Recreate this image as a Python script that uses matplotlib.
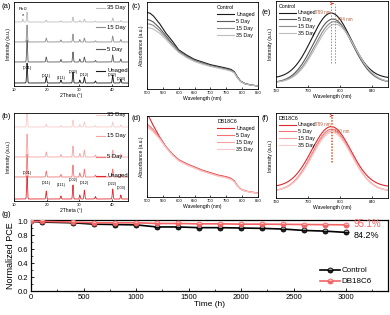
import numpy as np
import matplotlib
matplotlib.use("Agg")
import matplotlib.pyplot as plt

plt.rcParams['font.family'] = ['Liberation Sans', 'DejaVu Sans']
plt.rcParams['axes.linewidth'] = 0.6

W, H = 390, 315

# ---------------- data ----------------
# XRD peaks (2theta) and heights per sample
xrd_pos = [12.7, 14.0, 19.9, 24.4, 28.1, 30.2, 31.6, 35.0, 40.3, 42.8]
xrd_labels = ['(001)', '(011)', '(111)', '(002)', '(012)', '(022)', '(003)']
xrd_label_pos = [14.0, 19.9, 24.4, 28.1, 31.6, 40.3, 42.8]
xrd_samples = ['Unaged', '5 Day', '15 Day', '35 Day']
ctrl_xrd_heights = [
    [0, 20, 6, 3, 11, 3, 6, 2, 8, 4],
    [0, 22, 5, 2.5, 10, 3, 5, 1.5, 7, 3],
    [0, 17, 4, 2, 8, 2.5, 4, 1.2, 6, 2.5],
    [3, 10, 2, 1.2, 5, 1.5, 3, 1, 4, 1.5],
]
ctrl_xrd_offsets = [3, 24, 44, 64]
ctrl_xrd_label_y = [71, 49, 27, 8]
ctrl_hkl_y = [16, 8, 6, 12, 9, 9, 5]
db_xrd_heights = [
    [0, 23, 8, 3, 14, 4, 9, 2.5, 10, 4],
    [0, 23, 6, 2.5, 12, 4, 8, 2, 8, 3],
    [0, 23, 5, 2.5, 11, 3.5, 7, 2, 7, 3],
    [0, 20, 3, 1.5, 7, 2.5, 5, 1.5, 5, 2],
]
db_xrd_offsets = [2, 24, 44, 74]
db_xrd_label_y = [176, 157, 136, 115]
db_hkl_y = [26, 16, 14, 19, 16, 15, 11]

# Absorption spectra
abs_wl = [500, 510, 520, 540, 560, 580, 600, 625, 650, 675, 700, 725, 750, 765,
          775, 785, 795, 810, 830, 850]
ctrl_abs = {
    'Unaged': [0.88, 0.87, 0.84, 0.75, 0.64, 0.55, 0.45, 0.39, 0.34, 0.31, 0.28, 0.26,
               0.24, 0.225, 0.20, 0.14, 0.09, 0.06, 0.045, 0.035],
    '5 Day': [0.80, 0.79, 0.77, 0.70, 0.61, 0.52, 0.44, 0.38, 0.33, 0.30, 0.27, 0.25,
              0.23, 0.215, 0.195, 0.135, 0.09, 0.06, 0.045, 0.035],
    '15 Day': [0.75, 0.745, 0.73, 0.67, 0.59, 0.51, 0.43, 0.37, 0.325, 0.295, 0.265,
               0.245, 0.225, 0.21, 0.19, 0.13, 0.088, 0.058, 0.044, 0.034],
    '35 Day': [0.705, 0.70, 0.69, 0.64, 0.57, 0.49, 0.42, 0.36, 0.315, 0.285, 0.26,
               0.24, 0.22, 0.205, 0.185, 0.13, 0.087, 0.057, 0.043, 0.033],
}
db_abs = {
    'Unaged': [1.03, 0.96, 0.88, 0.74, 0.62, 0.53, 0.46, 0.41, 0.37, 0.33, 0.30, 0.27,
               0.25, 0.23, 0.20, 0.14, 0.10, 0.075, 0.06, 0.05],
    '5 Day': [0.90, 0.87, 0.83, 0.73, 0.615, 0.525, 0.455, 0.405, 0.365, 0.325, 0.295,
              0.265, 0.245, 0.225, 0.195, 0.137, 0.098, 0.073, 0.058, 0.048],
    '15 Day': [0.875, 0.85, 0.815, 0.72, 0.61, 0.52, 0.45, 0.40, 0.36, 0.32, 0.29,
               0.26, 0.24, 0.22, 0.19, 0.135, 0.096, 0.072, 0.057, 0.047],
    '35 Day': [0.86, 0.835, 0.80, 0.715, 0.605, 0.515, 0.445, 0.395, 0.355, 0.315, 0.285,
               0.255, 0.235, 0.215, 0.187, 0.133, 0.095, 0.071, 0.056, 0.046],
}

# PL peaks: center (nm), height, baseline
ctrl_pl_center = [789, 791, 793, 794]
ctrl_pl_height = [0.76, 0.74, 0.71, 0.68]
ctrl_pl_base = [0.10, 0.05, 0.05, 0.05]
db_pl_center = [789, 789.5, 790, 790]
db_pl_height = [0.71, 0.73, 0.71, 0.69]
db_pl_base = [0.13, 0.08, 0.08, 0.08]

# Stability
time_h = [0, 100, 400, 600, 800, 1000, 1200, 1400, 1600, 1800, 2000, 2200, 2400,
          2600, 2800, 3000]
pce_control = [1.0, 0.99, 0.98, 0.96, 0.955, 0.95, 0.92, 0.92, 0.91, 0.91, 0.905,
               0.90, 0.89, 0.87, 0.86, 0.842]
pce_db = [1.0, 1.0, 0.99, 0.98, 0.98, 0.98, 0.97, 0.97, 0.965, 0.965, 0.96, 0.96,
          0.958, 0.955, 0.953, 0.951]

grey_cols = ['#1a1a1a', '#5a5a5a', '#8c8c8c', '#bdbdbd']
red_cols = ['#e0282e', '#f07474', '#f5a3a3', '#f9c9c9']

fig = plt.figure(figsize=(W / 100, H / 100), dpi=100)


def px(l, t, r, b):
    return [l / W, 1 - b / H, (r - l) / W, (b - t) / H]


def flabel(x, y, s):
    fig.text(x / W, 1 - y / H, s, fontsize=5.5, ha='left', va='center')


def small_ticks(ax):
    ax.tick_params(direction='in', length=1.5, width=0.5, labelsize=3, pad=1.2)


# ---------------- XRD ----------------
def xrd_panel(rect, heights, offsets, cols, label_y_px, hkl_y, top_px, bot_px, pbi2):
    ax = fig.add_axes(px(*rect))
    x = np.linspace(10, 45, 3000)
    for i, (h, off) in enumerate(zip(heights, offsets)):
        y = np.full_like(x, float(off))
        for p, hh in zip(xrd_pos, h):
            y += hh * np.exp(-0.5 * ((x - p) / 0.13) ** 2)
        ax.plot(x, y, color=cols[i], lw=0.6)
    ymax = bot_px - top_px
    ax.set_xlim(10, 45)
    ax.set_ylim(0, ymax)
    ax.set_yticks([])
    ax.set_xticks([10, 20, 30, 40])
    small_ticks(ax)
    ax.set_xlabel('2Theta (°)', fontsize=3.6, labelpad=1)
    ax.set_ylabel('Intensity (a.u.)', fontsize=3.6, labelpad=2)
    for i, s in enumerate(xrd_samples):
        yy = bot_px - label_y_px[i]
        ax.plot([35.2, 37.9], [yy, yy], color=cols[i], lw=0.8)
        ax.text(38.6, yy, s, fontsize=4.2, va='center', ha='left')
    for lab, p, yy in zip(xrd_labels, xrd_label_pos, hkl_y):
        ax.text(p, yy, lab, fontsize=2.8, ha='center', va='bottom')
    if pbi2:
        ax.text(12.7, offsets[3] + heights[3][0] + 1, '*', fontsize=4, ha='center',
                va='bottom')
        ax.text(12.7, offsets[3] + heights[3][0] + 6, 'PbI$_2$', fontsize=3,
                ha='center', va='bottom')
    return ax


xrd_panel((14, 2, 128, 86), ctrl_xrd_heights, ctrl_xrd_offsets, grey_cols,
          [86 - v for v in [15, 37, 59, 78]], ctrl_hkl_y, 2, 86, True)
xrd_panel((14, 113, 128, 201), db_xrd_heights, db_xrd_offsets, red_cols,
          db_xrd_label_y, db_hkl_y, 113, 201, False)


# ---------------- Absorption ----------------
def abs_panel(rect, data, cols, title):
    ax = fig.add_axes(px(*rect))
    for i, s in enumerate(xrd_samples):
        ax.plot(abs_wl, data[s], color=cols[i], lw=0.8, label=s)
    ax.set_xlim(500, 850)
    ax.set_ylim(0, 1.0)
    ax.set_yticks([])
    ax.set_xticks(range(500, 851, 50))
    small_ticks(ax)
    ax.set_xlabel('Wavelength (nm)', fontsize=3.6, labelpad=1)
    ax.set_ylabel('Absorbance (a.u.)', fontsize=3.6, labelpad=2)
    ax.legend(title=title, loc='upper right', fontsize=3.8, title_fontsize=3.8,
              frameon=False, handlelength=3.2, labelspacing=0.35, borderaxespad=0.2,
              handletextpad=0.4, alignment='left')
    return ax


abs_panel((147, 2, 258, 89), ctrl_abs, grey_cols, 'Control')
abs_panel((147, 116, 258, 197), db_abs, red_cols, 'DB18C6')


# ---------------- PL ----------------
def pl_panel(rect, centers, heights, bases, cols, title, lbl1, lbl2, c1, c2, ybot):
    ax = fig.add_axes(px(*rect))
    x = np.linspace(715, 865, 600)
    for i, s in enumerate(xrd_samples):
        y = bases[i] + heights[i] * np.exp(-0.5 * ((x - centers[i]) / 24.5) ** 2)
        ax.plot(x, y, color=cols[i], lw=0.8, label=s)
    ax.set_xlim(720, 860)
    ax.set_ylim(0, 1.0)
    ax.set_yticks([])
    ax.set_xticks([720, 760, 800, 840])
    small_ticks(ax)
    ax.set_xlabel('Wavelength (nm)', fontsize=3.6, labelpad=1)
    ax.set_ylabel('Intensity (a.u.)', fontsize=3.6, labelpad=2)
    ax.legend(title=title, loc='upper left', fontsize=3.8, title_fontsize=3.8,
              frameon=False, handlelength=3.2, labelspacing=0.35, borderaxespad=0.1,
              handletextpad=0.4, alignment='left')
    dc = '#e0764e'
    ax.plot([c1, c1], [ybot, 0.97], ls=(0, (1.5, 1.5)), color=dc, lw=0.7)
    ax.plot([c2, c2], [ybot, 0.97], ls=(0, (1.5, 1.5)), color=dc, lw=0.7)
    ax.annotate('', xy=(c2 + 1.5, 0.97), xytext=(c1 - 1.5, 0.97),
                arrowprops=dict(arrowstyle='->', color='#d03020', lw=0.6,
                                mutation_scale=4))
    ax.text(c1 - 1, 0.87, lbl1, fontsize=3.3, color='#b5603f', ha='right', va='center')
    ax.text(c2 + 2, 0.78, lbl2, fontsize=3.3, color='#b5603f', ha='left', va='center')
    return ax


pl_panel((276, 1, 388, 87), ctrl_pl_center, ctrl_pl_height, ctrl_pl_base, grey_cols,
         'Control', '789 nm', '794 nm', 789, 794, 0.28)
pl_panel((276, 113, 388, 198), db_pl_center, db_pl_height, db_pl_base, red_cols,
         'DB18C6', '789 nm', '790 nm', 789, 790, 0.42)

# ---------------- Stability ----------------
ax = fig.add_axes(px(31, 220, 388, 291))
ax.plot(time_h, pce_control, color='black', lw=1.2, marker='o', ms=3.6,
        mfc='#222222', mec='black', mew=0.6, fillstyle='bottom',
        markerfacecoloralt='#9a9a9a', label='Control', zorder=3)
ax.plot(time_h, pce_db, color='#f26363', lw=1.2, marker='o', ms=3.6,
        mfc='#f26363', mec='#f26363', mew=0.6, fillstyle='bottom',
        markerfacecoloralt='#f9b5b5', label='DB18C6', zorder=4)
ax.set_xlim(0, 3400)
ax.set_ylim(0, 1.02)
ax.set_xticks(range(0, 3001, 500))
ax.set_xticks(range(250, 3400, 500), minor=True)
ax.set_yticks([0.0, 0.2, 0.4, 0.6, 0.8, 1.0])
ax.set_yticks([0.1, 0.3, 0.5, 0.7, 0.9], minor=True)
ax.yaxis.set_major_formatter(matplotlib.ticker.FormatStrFormatter('%.1f'))
ax.tick_params(which='major', direction='in', length=2.5, width=0.6, labelsize=5.5,
               pad=2)
ax.tick_params(which='minor', direction='in', length=1.5, width=0.5)
for sp in ax.spines.values():
    sp.set_linewidth(0.9)
ax.set_xlabel('Time (h)', fontsize=6, labelpad=0.5)
ax.set_ylabel('Normalized PCE', fontsize=6.5, labelpad=2)
ax.text(3070, pce_db[-1] + 0.005, '95.1%', color='#f26363', fontsize=7, va='center')
ax.text(3070, 0.80, '84.2%', color='black', fontsize=6.5, va='center')
ax.legend(loc='lower right', fontsize=5.8, frameon=False, handlelength=2.4,
          handletextpad=0.2, labelspacing=0.4, borderaxespad=0.3,
          bbox_to_anchor=(0.97, 0.0))

flabel(2, 7, '(a)')
flabel(2, 117, '(b)')
flabel(132, 7, '(c)')
flabel(132, 118, '(d)')
flabel(262, 13, '(e)')
flabel(262, 118, '(f)')
flabel(2, 215, '(g)')

fig.savefig('out.png', dpi=100)
